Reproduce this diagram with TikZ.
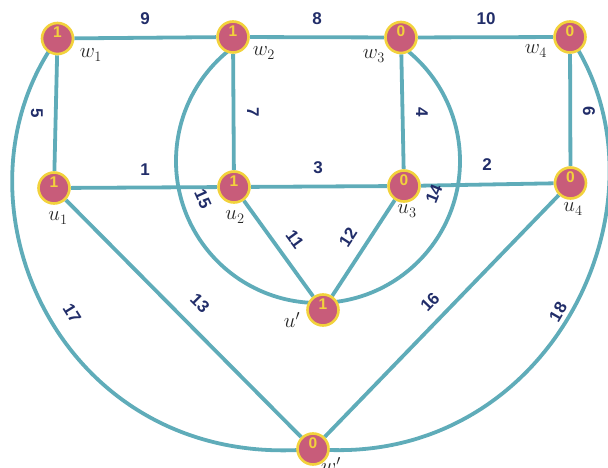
\documentclass[tikz,border=0pt]{standalone}
\usepackage{fontspec}
\setsansfont{Liberation Sans}
\usetikzlibrary{backgrounds}
\definecolor{vfill}{RGB}{200,92,122}
\definecolor{vdraw}{RGB}{242,210,60}
\definecolor{edgec}{RGB}{95,172,185}
\definecolor{labc}{RGB}{33,45,105}
\begin{document}
\begin{tikzpicture}[x=1pt,y=-1pt,
  vertex/.style={circle, fill=vfill, draw=vdraw, line width=2.6pt, minimum size=31pt,
    inner sep=0pt, text=vdraw, font=\fontsize{15.5}{15.5}\sffamily\bfseries,
    text height=11pt, text depth=12pt},
  edge/.style={draw=edgec, line width=3.8pt},
  wl/.style={font=\fontsize{17}{17}\sffamily\bfseries, text=labc, inner sep=0pt},
  nl/.style={font=\fontsize{20}{20}\selectfont, text=black!85, inner sep=0pt}]
\useasboundingbox (0,0) rectangle (608,468);

% vertices
\node[vertex] (w1) at (57.5,38.5) {1};
\node[vertex] (w2) at (233,37) {1};
\node[vertex] (w3) at (401,37.5) {0};
\node[vertex] (w4) at (570,37) {0};
\node[vertex] (u1) at (54,188) {1};
\node[vertex] (u2) at (234,187) {1};
\node[vertex] (u3) at (404,186) {0};
\node[vertex] (u4) at (570.5,183) {0};
\node[vertex] (up) at (323,310) {1};
\node[vertex] (wp) at (313,449) {0};
\coordinate (cc) at (318,161);

% vertex names
\node[nl] (lw1) at (91,55) {$w_1$};
\node[nl] (lw2) at (264,53) {$w_2$};
\node[nl] (lw3) at (374,56) {$w_3$};
\node[nl] (lw4) at (536,51) {$w_4$};
\node[nl] (lu1) at (58,218) {$u_1$};
\node[nl] (lu2) at (235,217) {$u_2$};
\node[nl] (lu3) at (407,211) {$u_3$};
\node[nl] (lu4) at (573,209) {$u_4$};
\node[nl] (lup) at (292,320) {$u'$};
\node[nl] (lwp) at (331,465) {$w'$};

% edges
\begin{pgfonlayer}{background}
\draw[edge] (w1) -- (w2);
\draw[edge] (w2) -- (w3);
\draw[edge] (w3) -- (w4);
\draw[edge] (w1) -- (u1);
\draw[edge] (w2) -- (u2);
\draw[edge] (w3) -- (u3);
\draw[edge] (w4) -- (u4);
\draw[edge] (u1) -- (u2);
\draw[edge] (u2) -- (u3);
\draw[edge] (u3) -- (u4);
\draw[edge] (u2) -- (up);
\draw[edge] (u3) -- (up);
\draw[edge] (u1) -- (wp);
\draw[edge] (u4) -- (wp);
\draw[edge] (cc) ++(126.8:142pt) arc[start angle=126.8, end angle=270, radius=142pt];
\draw[edge] (cc) ++(270:142pt) arc[start angle=270, end angle=413.8, radius=142pt];
\draw[edge] (w1.center) .. controls (-60,200) and (60,472) .. (wp.center);
\draw[edge] (w4.center) .. controls (680,200) and (550,470) .. (wp.center);
\end{pgfonlayer}

% edge weights
\node[wl] (e9)  at (145,19) {9};
\node[wl] (e8)  at (317,19) {8};
\node[wl] (e10) at (486,19) {10};
\node[wl, rotate=-90] (e5) at (37,113) {5};
\node[wl, rotate=-90] (e7) at (253,112) {7};
\node[wl, rotate=-90] (e4) at (422,112) {4};
\node[wl, rotate=-90] (e6) at (589,111) {6};
\node[wl] (e1) at (145,170) {1};
\node[wl] (e3) at (318,168) {3};
\node[wl] (e2) at (487,165) {2};
\node[wl, rotate=-66] (e15) at (203,199) {15};
\node[wl, rotate=68] (e14) at (434,194) {14};
\node[wl, rotate=-54] (e11) at (295,239) {11};
\node[wl, rotate=57] (e12) at (348,237) {12};
\node[wl, rotate=-45] (e13) at (200,303) {13};
\node[wl, rotate=46] (e16) at (430,302) {16};
\node[wl, rotate=-58] (e17) at (72,313) {17};
\node[wl, rotate=60] (e18) at (558,312) {18};
\end{tikzpicture}
\end{document}
